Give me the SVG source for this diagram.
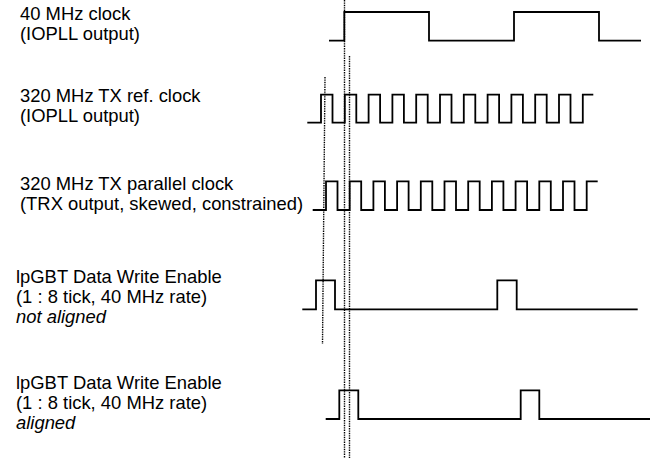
<svg xmlns="http://www.w3.org/2000/svg" width="652" height="458" viewBox="0 0 652 458">
<style>
text{font-family:"Liberation Sans",Arial,sans-serif;font-size:18.4px;fill:#000}
.it{font-style:italic}
.wave{fill:none;stroke:#000;stroke-width:1.8;stroke-linejoin:miter}
.dot{fill:none;stroke:#000;stroke-width:1.4;stroke-dasharray:1.4 1}
</style>
<rect width="652" height="458" fill="#fff"/>
<g id="clk40">
<text x="20" y="19.5">40 MHz clock</text>
<text x="20" y="39.5">(IOPLL output)</text>
<path class="wave" d="M329,40.7 H344.3 V12 H429 V40.7 H514 V12 H599 V40.7 H641"/>
</g>
<g id="txref">
<text x="20" y="102">320 MHz TX ref. clock</text>
<text x="20" y="122">(IOPLL output)</text>
<path class="wave" d="M307.3,122.7 H321 V94.7 H332.5 V122.7 H344.8 V94.7 H356.3 V122.7 H368.6 V94.7 H380.1 V122.7 H392.4 V94.7 H403.9 V122.7 H416.2 V94.7 H427.7 V122.7 H440 V94.7 H451.5 V122.7 H463.8 V94.7 H475.3 V122.7 H487.6 V94.7 H499.1 V122.7 H511.4 V94.7 H522.9 V122.7 H535.2 V94.7 H546.7 V122.7 H559 V94.7 H570.5 V122.7 H582.8 V94.7 H593.3"/>
</g>
<g id="txpar">
<text x="20" y="190">320 MHz TX parallel clock</text>
<text x="20" y="210">(TRX output, skewed, constrained)</text>
<path class="wave" d="M312.7,210 H326 V181.3 H337.5 V210 H349.7 V181.3 H361.2 V210 H373.4 V181.3 H384.9 V210 H397.1 V181.3 H408.6 V210 H420.8 V181.3 H432.3 V210 H444.5 V181.3 H456 V210 H468.2 V181.3 H479.7 V210 H491.9 V181.3 H503.4 V210 H515.6 V181.3 H527.1 V210 H539.3 V181.3 H550.8 V210 H563 V181.3 H574.5 V210 H586.7 V181.3 H597.7"/>
</g>
<g id="we-notaligned">
<text x="16" y="282.5">lpGBT Data Write Enable</text>
<text x="16" y="302.5">(1 : 8 tick, 40 MHz rate)</text>
<text x="16" y="322.5" class="it">not aligned</text>
<path class="wave" d="M302.3,309.3 H316 V280.3 H335 V309.3 H497.3 V280.3 H516.7 V309.3 H637.7"/>
</g>
<g id="we-aligned">
<text x="16" y="389">lpGBT Data Write Enable</text>
<text x="16" y="409">(1 : 8 tick, 40 MHz rate)</text>
<text x="16" y="429" class="it">aligned</text>
<path class="wave" d="M325.7,419 H339.3 V390.3 H358.3 V419 H520.7 V390.3 H539.3 V419 H650"/>
</g>
<g id="connectors">
<line class="dot" x1="344.5" y1="0" x2="344.5" y2="458"/>
<line class="dot" x1="349.5" y1="56" x2="349.5" y2="458"/>
<line class="dot" x1="325" y1="77" x2="322.5" y2="344"/>
</g>
</svg>
